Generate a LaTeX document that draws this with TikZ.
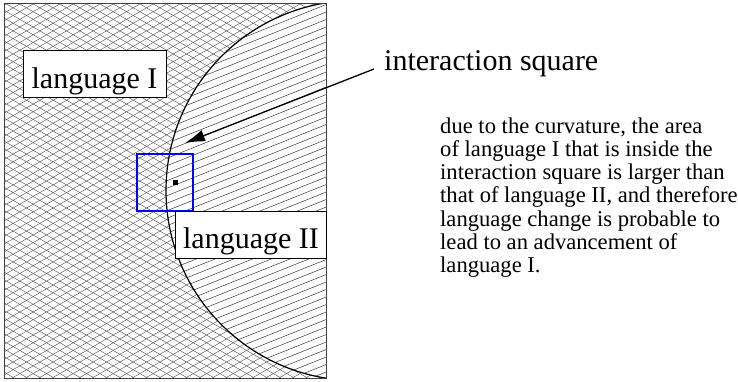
\documentclass[tikz,border=0pt]{standalone}
\usepackage{fontspec}
\setmainfont{Liberation Serif}
\usetikzlibrary{arrows.meta}
\begin{document}
\begin{tikzpicture}[x=1pt,y=-1pt,
  lbl/.style={draw=black, fill=white, line width=0.8pt, inner sep=0pt,
    font=\fontsize{30}{32}\selectfont, text height=37.5pt, text depth=9.5pt, anchor=base},
  hatch/.style={black!65, line width=0.45pt},
  dhatch/.style={black!75, line width=0.5pt},
]
\useasboundingbox (0,0) rectangle (738,381);
\begin{scope}
  \clip (4,3) rectangle (326,378);
  \begin{scope}[even odd rule]
    \clip (0,0) rectangle (738,381) (356,190.5) circle (190pt);
    \foreach \c in {-200,-192.3,...,400} { \draw[hatch] (0,\c) -- (330,\c+190.5); }
    \foreach \c in {0,7.7,...,600} { \draw[hatch] (0,\c) -- (330,\c-190.5); }
  \end{scope}
  \begin{scope}
    \clip (356,190.5) circle (190pt);
    \foreach \c in {0,7.5,...,480} { \draw[dhatch] (150,\c) -- (330,\c-72); }
  \end{scope}
  \draw[line width=1.2pt] (356,190.5) circle (190pt);
\end{scope}
\draw[black!75, line width=1pt] (4,3) rectangle (326,378);

\node[draw=blue, line width=1.1pt, minimum width=56pt, minimum height=57pt, inner sep=0pt] (sq) at (165,182.5) {};
\node[fill=black, minimum size=5pt, inner sep=0pt] (dot) at (175,182) {};

\node[lbl, minimum width=143pt] (l1) at (94.5,88) {language I};
\node[lbl, minimum width=151.5pt] (l2) at (251,248.5) {language II};

\node[anchor=base west, inner sep=0pt, font=\fontsize{30}{32}\selectfont] (isq) at (384,70) {interaction square};

\node[anchor=base west, inner sep=0pt] (note) at (440,133) {\parbox[t]{300pt}{\fontsize{22.6}{23.3}\selectfont\raggedright
due to the curvature, the area\\
of language I that is inside the\\
interaction square is larger than\\
that of language II, and therefore\\
language change is probable to\\
lead to an advancement of\\
language I.}};

\coordinate (astart) at (374,69);
\coordinate (atip) at (185,143);
\draw[line width=1.3pt, -{Latex[length=20pt,width=12pt]}] (astart) -- (atip);
\end{tikzpicture}
\end{document}
